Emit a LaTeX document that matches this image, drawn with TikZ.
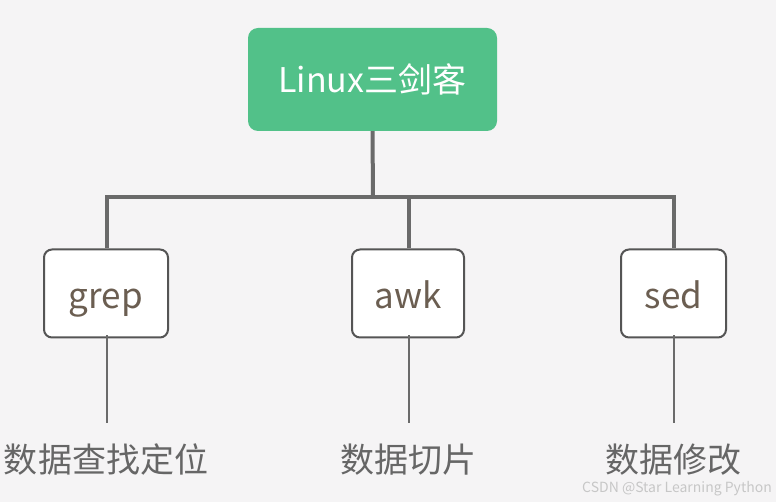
\documentclass[tikz,border=0pt]{standalone}
\usepackage{fontspec}
\setmainfont{Noto Sans CJK SC}
\begin{document}
\begin{tikzpicture}[x=1pt,y=-1pt,
  topbox/.style={draw=none,fill=green1,rounded corners=10pt,minimum width=249pt,minimum height=103pt,text=white,font=\fontsize{34}{40}\selectfont,inner sep=0pt},
  toolbox/.style={draw=edge,line width=2pt,fill=white,rounded corners=8pt,minimum height=88pt,text=brownish,font=\fontsize{35}{40}\selectfont,inner sep=0pt,text height=33pt,text depth=2pt},
  desc/.style={text=gray6,font=\fontsize{34}{40}\selectfont,inner sep=0pt},
  thick line/.style={draw=linegray,line width=4pt},
  thin line/.style={draw=linegray,line width=2pt}]
\definecolor{green1}{HTML}{52C189}
\definecolor{edge}{HTML}{555555}
\definecolor{brownish}{HTML}{6B5E51}
\definecolor{gray6}{HTML}{666666}
\definecolor{linegray}{HTML}{6A6A6A}
\definecolor{bg}{HTML}{F5F4F5}
\fill[bg] (0,0) rectangle (776,502);
\useasboundingbox (0,0) rectangle (776,502);
\node[topbox] (top) at (372.5,79.5) {Linux三剑客};
\node[toolbox,minimum width=124pt] (grep) at (106,293.5) {grep};
\node[toolbox,minimum width=112pt] (awk) at (408,293.5) {awk};
\node[toolbox,minimum width=105pt] (sed) at (673.5,293.5) {sed};
\coordinate (j) at (373,197);
\coordinate (jl) at (107,197);
\coordinate (jr) at (674,197);
\draw[thick line] (top.south) -- (j);
\draw[thick line,line join=miter] (grep.north -| jl) -- (jl) -- (jr) -- (sed.north -| jr);
\draw[thick line] (awk.north -| 409,0) -- (409,197);
\coordinate (gd) at (107,423);
\coordinate (ad) at (409,423);
\coordinate (sd) at (674,423);
\draw[thin line] ([yshift=3pt]grep.south -| gd) -- (gd);
\draw[thin line] ([yshift=3pt]awk.south -| ad) -- (ad);
\draw[thin line] ([yshift=3pt]sed.south -| sd) -- (sd);
\node[desc] (d1) at (106,460) {数据查找定位};
\node[desc] (d2) at (408,460) {数据切片};
\node[desc] (d3) at (673,460) {数据修改};
\node[text=black!22,font=\fontsize{14}{16}\selectfont,anchor=east,inner sep=0pt] (wm) at (772,489) {CSDN @Star Learning Python};
\end{tikzpicture}
\end{document}
